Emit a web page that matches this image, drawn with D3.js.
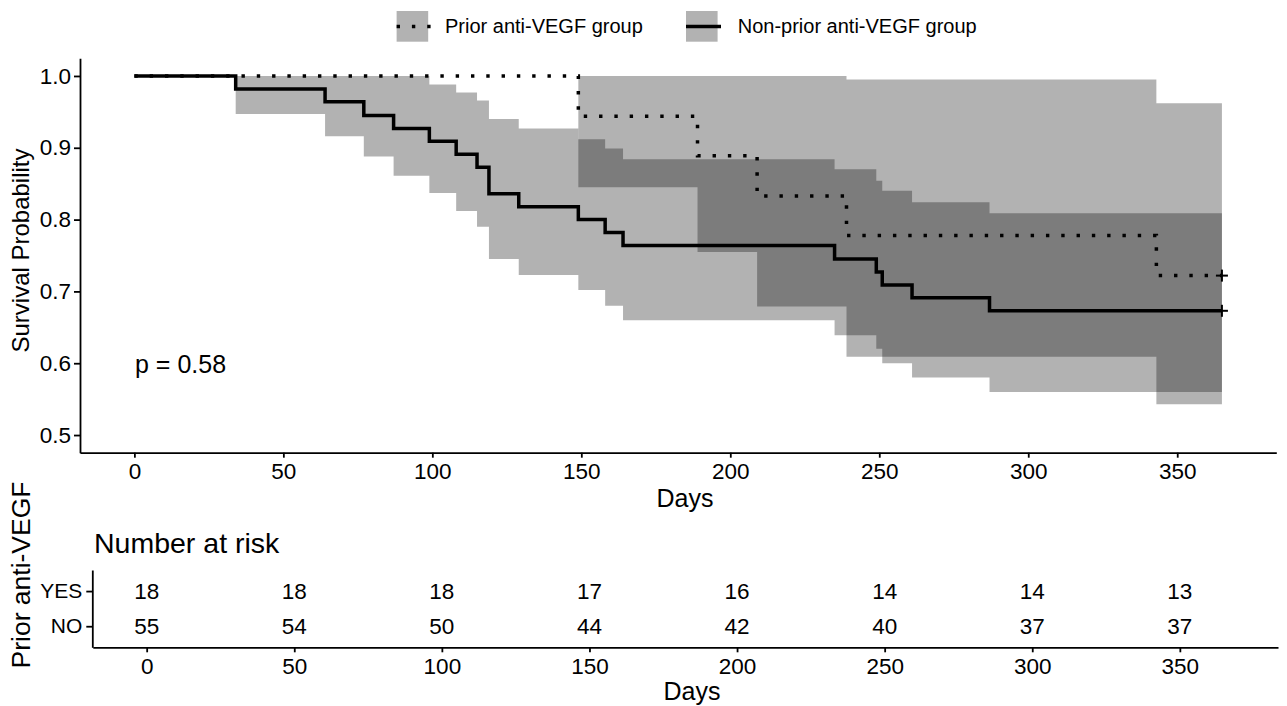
<html>
<head>
<style>
  body { margin: 0; background: #fff; }
  text { font-family: "Liberation Sans", Arial, Helvetica, sans-serif; fill: #000; }
  .axis path, .axis line { stroke: #000; stroke-width: 1.8; }
  .band { fill: #000; fill-opacity: 0.3; stroke: none; }
  .km { fill: none; stroke: #000; stroke-width: 3.5; }
  .dotted { stroke-dasharray: 3.4 11.9; }
  .censor { stroke: #000; stroke-width: 2; }
</style>
<script src="https://cdn.jsdelivr.net/npm/d3@7"></script>
</head>
<body>
<svg id="chart" width="1287" height="706"></svg>
<script>
// Non-prior anti-VEGF group (solid)
let nonTime  = [0, 34, 64, 77, 87, 99, 108, 115, 119, 129, 149, 158, 164, 235, 249, 251, 261, 287, 365]
let nonSurv  = [1.0, 0.982, 0.964, 0.945, 0.927, 0.909, 0.891, 0.873, 0.836, 0.818, 0.800, 0.782, 0.764, 0.745, 0.727, 0.709, 0.691, 0.673, 0.673]
let nonUpper = [1.0, 1.0, 1.0, 1.0, 1.0, 0.988, 0.977, 0.966, 0.940, 0.927, 0.912, 0.899, 0.884, 0.870, 0.854, 0.840, 0.824, 0.809, 0.809]
let nonLower = [1.0, 0.947, 0.916, 0.888, 0.861, 0.837, 0.812, 0.790, 0.745, 0.723, 0.702, 0.680, 0.660, 0.639, 0.620, 0.600, 0.580, 0.560, 0.560]

// Prior anti-VEGF group (dotted)
let priorTime  = [0, 149, 189, 209, 239, 343, 365]
let priorSurv  = [1.0, 0.944, 0.889, 0.833, 0.778, 0.722, 0.722]
let priorUpper = [1.0, 1.0, 1.0, 1.0, 0.995, 0.962, 0.962]
let priorLower = [1.0, 0.845, 0.755, 0.679, 0.609, 0.543, 0.543]

// number at risk table
let riskTimes = [0, 50, 100, 150, 200, 250, 300, 350]
let riskYes = [18, 18, 18, 17, 16, 14, 14, 13]
let riskNo  = [55, 54, 50, 44, 42, 40, 37, 37]
let riskGroups = ["YES", "NO"]

let yTicks = [0.5, 0.6, 0.7, 0.8, 0.9, 1.0]
let pText = "p = 0.58"
let legendLabels = ["Prior anti-VEGF group", "Non-prior anti-VEGF group"]

let svg = d3.select("#chart")
svg.append("rect").attr("width", 1287).attr("height", 706).attr("fill", "#fff")

let x = d3.scaleLinear().domain([-18.25, 383.25]).range([80, 1276.3])
let y = d3.scaleLinear().domain([0.4754, 1.0246]).range([452.7, 58.3])

function rows(t, s, u, l) {
    return t.map((d, i) => ({ time: d, surv: s[i], upper: u[i], lower: l[i] }))
}
let groups = [
    { name: "prior", cls: "km dotted", data: rows(priorTime, priorSurv, priorUpper, priorLower) },
    { name: "non", cls: "km", data: rows(nonTime, nonSurv, nonUpper, nonLower) }
]

let band = d3.area()
    .x(d => x(d.time))
    .y0(d => y(d.lower))
    .y1(d => y(d.upper))
    .curve(d3.curveStepAfter)

let kmLine = d3.line()
    .x(d => x(d.time))
    .y(d => y(d.surv))
    .curve(d3.curveStepAfter)

let plot = svg.append("g")
groups.forEach(g => {
    plot.append("path").datum(g.data).attr("class", "band").attr("d", band)
})
groups.forEach(g => {
    plot.append("path").datum(g.data).attr("class", g.cls).attr("d", kmLine)
})
// censor marks at last time
groups.forEach(g => {
    let last = g.data[g.data.length - 1]
    let cx = x(last.time), cy = y(last.surv)
    plot.append("line").attr("class", "censor").attr("x1", cx - 6).attr("x2", cx + 6).attr("y1", cy).attr("y2", cy)
    plot.append("line").attr("class", "censor").attr("x1", cx).attr("x2", cx).attr("y1", cy - 6).attr("y2", cy + 6)
})

function styleAxis(g, size) {
    g.attr("class", "axis")
    g.selectAll("text").attr("font-size", size).attr("font-family", null)
}

svg.append("g")
    .attr("transform", "translate(0,452.7)")
    .call(d3.axisBottom(x).tickValues(riskTimes).tickSize(5).tickPadding(5).tickSizeOuter(0))
    .call(styleAxis, 22.5)

svg.append("g")
    .attr("transform", "translate(80,0)")
    .call(d3.axisLeft(y).tickValues(yTicks).tickFormat(d3.format(".1f")).tickSize(6).tickPadding(3).tickSizeOuter(0))
    .call(styleAxis, 22.5)

svg.append("text").attr("x", 685).attr("y", 507).attr("text-anchor", "middle")
    .attr("font-size", 25).text("Days")
svg.append("text").attr("transform", "translate(29,250.5) rotate(-90)").attr("text-anchor", "middle")
    .attr("font-size", 24).text("Survival Probability")
svg.append("text").attr("x", 135).attr("y", 373).attr("font-size", 25).text(pText)

// legend
let legend = svg.append("g")
let keyX = [396.6, 686]
let textX = [445, 737.7]
legendLabels.forEach((lab, i) => {
    legend.append("rect").attr("x", keyX[i]).attr("y", 11).attr("width", 31.6).attr("height", 30.7)
        .attr("fill", "#000").attr("fill-opacity", 0.3)
    legend.append("line").attr("class", i == 0 ? "km dotted" : "km")
        .attr("x1", keyX[i]).attr("x2", keyX[i] + 35).attr("y1", 26.5).attr("y2", 26.5)
        .attr("stroke-width", i == 0 ? 3.4 : 3.2)
    legend.append("text").attr("x", textX[i]).attr("y", 33.3).attr("font-size", 20).text(lab)
})

// risk table
let xt = d3.scaleLinear().domain([-18.25, 383.25]).range([92.8, 1278])
let yt = d3.scalePoint().domain(riskGroups).range([570, 647.3]).padding(0.6)

svg.append("text").attr("x", 94).attr("y", 553).attr("font-size", 28.5).text("Number at risk")

let table = svg.append("g")
let counts = { YES: riskYes, NO: riskNo }
riskGroups.forEach(grp => {
    table.selectAll(null).data(riskTimes).enter().append("text")
        .attr("x", d => xt(d))
        .attr("y", yt(grp))
        .attr("dy", "0.35em")
        .attr("text-anchor", "middle")
        .attr("font-size", 22.5)
        .text((d, i) => counts[grp][i])
})

svg.append("g")
    .attr("transform", "translate(0,647.3)")
    .call(d3.axisBottom(xt).tickValues(riskTimes).tickSize(5).tickPadding(5.5).tickSizeOuter(0))
    .call(styleAxis, 22.5)

svg.append("g")
    .attr("transform", "translate(92.3,0)")
    .call(d3.axisLeft(yt).tickSize(6).tickPadding(4).tickSizeOuter(0))
    .call(styleAxis, 21)

svg.append("text").attr("x", 692).attr("y", 700).attr("text-anchor", "middle")
    .attr("font-size", 25).text("Days")
svg.append("text").attr("transform", "translate(30,575) rotate(-90)").attr("text-anchor", "middle")
    .attr("font-size", 26.5).text("Prior anti-VEGF")
</script>
</body>
</html>
